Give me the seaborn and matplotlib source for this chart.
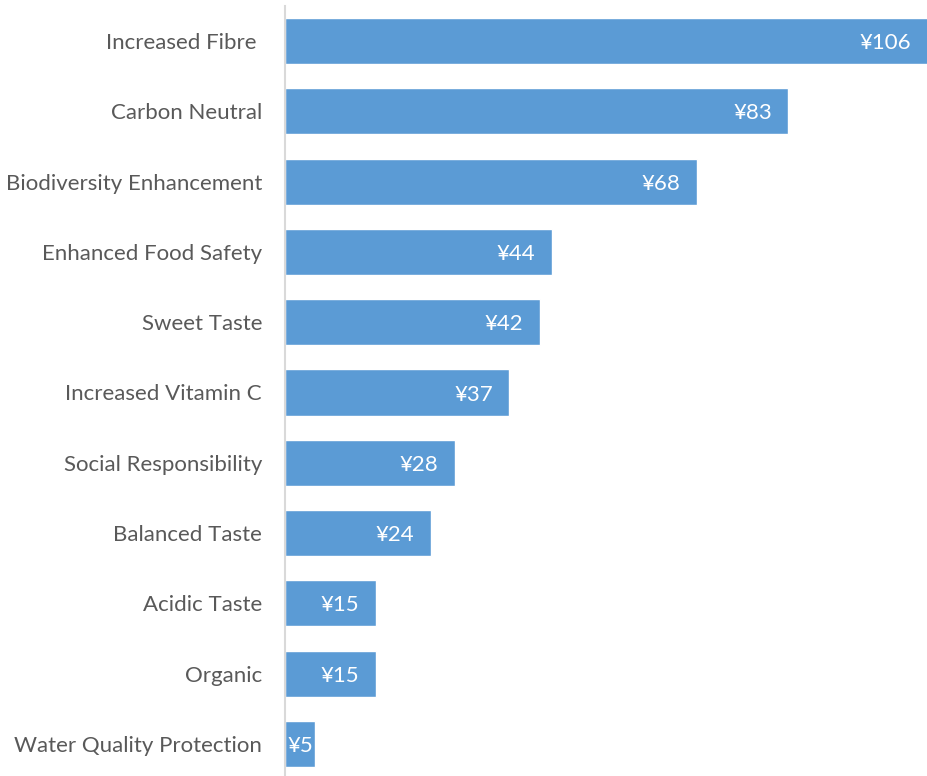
import matplotlib
matplotlib.use("Agg")
import matplotlib.pyplot as plt
import seaborn as sns
import pandas as pd

# Willingness to pay per attribute
attributes = [
    "Increased Fibre ",
    "Carbon Neutral",
    "Biodiversity Enhancement",
    "Enhanced Food Safety",
    "Sweet Taste",
    "Increased Vitamin C",
    "Social Responsibility",
    "Balanced Taste",
    "Acidic Taste",
    "Organic",
    "Water Quality Protection",
]
values = [106, 83, 68, 44, 42, 37, 28, 24, 15, 15, 5]

df = pd.DataFrame({"attribute": attributes, "value": values})

sns.set_theme(style="white")
plt.rcParams["font.family"] = ["Lato", "DejaVu Sans"]

fig = plt.figure(figsize=(9.28, 7.76), dpi=100)
ax = fig.add_axes([285 / 928, 0.0, 643 / 928, 0.9925])

sns.barplot(data=df, x="value", y="attribute", orient="h",
            color="#5B9BD5", saturation=1, width=0.655, ax=ax)

ax.set_xlim(0, 106)
ax.set_ylim(10.455, -0.5)

# Value labels at the inner end of each bar; short bars get the label from the base
for i, v in enumerate(values):
    if v < 8:
        ax.annotate(f"¥{v}", xy=(0, i), xytext=(2, -1.5), textcoords="offset points",
                    ha="left", va="center", color="white", fontsize=16)
    else:
        ax.annotate(f"¥{v}", xy=(v, i), xytext=(-12, -1.5), textcoords="offset points",
                    ha="right", va="center", color="white", fontsize=16)

ax.set_xlabel("")
ax.set_ylabel("")
ax.set_xticks([])
ax.tick_params(axis="y", length=0, pad=16.5, labelsize=16, labelcolor="#595959")
for s in ["top", "right", "bottom"]:
    ax.spines[s].set_visible(False)
ax.spines["left"].set_color("#D9D9D9")
ax.spines["left"].set_linewidth(1.5)

fig.savefig("out.png", dpi=100)
